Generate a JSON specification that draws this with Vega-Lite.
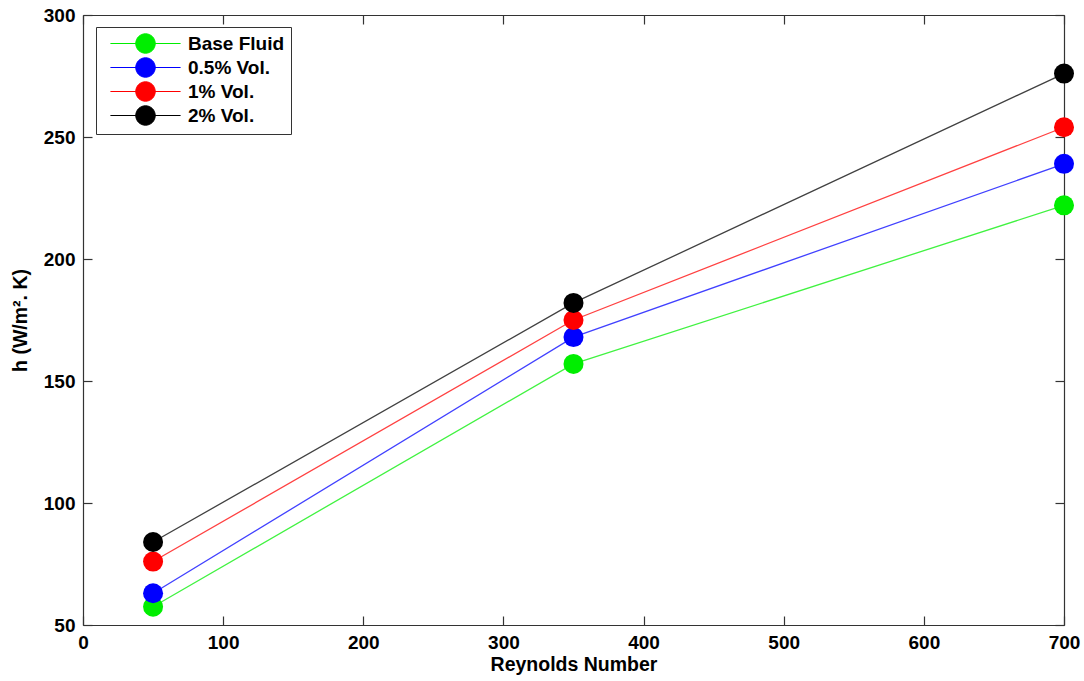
{
  "$schema": "https://vega.github.io/schema/vega-lite/v6.json",
  "width": 981,
  "height": 610,
  "autosize": {"type": "none"},
  "padding": {"left": 83, "top": 15, "right": 20, "bottom": 56},
  "background": "white",
  "config": {
    "font": "Liberation Sans",
    "view": {"stroke": null},
    "axis": {"grid": false, "labelFlush": false, "domainColor": "#333333", "tickColor": "#333333", "labelFont": "Liberation Sans", "labelFontWeight": "bold", "labelFontSize": 19, "labelColor": "black", "titleFont": "Liberation Sans", "titleFontWeight": "bold", "titleFontSize": 19.5, "titleColor": "black", "tickSize": -9, "domainWidth": 1.2, "tickWidth": 1.2}
  },
  "data": {"values": [
    {"series": "Base Fluid", "Re": 50, "h": 57.5},
    {"series": "Base Fluid", "Re": 350, "h": 157},
    {"series": "Base Fluid", "Re": 700, "h": 222},
    {"series": "0.5% Vol.", "Re": 50, "h": 63},
    {"series": "0.5% Vol.", "Re": 350, "h": 168},
    {"series": "0.5% Vol.", "Re": 700, "h": 239},
    {"series": "1% Vol.", "Re": 50, "h": 76},
    {"series": "1% Vol.", "Re": 350, "h": 175},
    {"series": "1% Vol.", "Re": 700, "h": 254},
    {"series": "2% Vol.", "Re": 50, "h": 84},
    {"series": "2% Vol.", "Re": 350, "h": 182},
    {"series": "2% Vol.", "Re": 700, "h": 276}
  ]},
  "layer": [
    {
      "encoding": {
        "x": {"field": "Re", "type": "quantitative", "scale": {"domain": [0, 700], "nice": false}, "axis": {"title": "Reynolds Number", "values": [0,100,200,300,400,500,600,700], "labelPadding": 17, "titlePadding": 3}},
        "y": {"field": "h", "type": "quantitative", "scale": {"domain": [50, 300], "nice": false}, "axis": {"title": "h (W/m². K)", "values": [50,100,150,200,250,300], "labelPadding": 17, "titlePadding": 13}},
        "color": {"field": "series", "type": "nominal", "sort": ["Base Fluid", "0.5% Vol.", "1% Vol.", "2% Vol."], "scale": {"domain": ["Base Fluid", "0.5% Vol.", "1% Vol.", "2% Vol."], "range": ["#00ee00", "#0000ff", "#ff0000", "#000000"]},
          "legend": {"title": null, "orient": "none", "legendX": 13, "legendY": 12, "strokeColor": "#333333", "fillColor": "white", "padding": 6, "symbolType": "M-3.6,0H3.6M-1,0A1,1 0 1,1 1,0A1,1 0 1,1 -1,0Z", "symbolSize": 380, "symbolStrokeWidth": 1, "symbolOpacity": 1, "labelFontSize": 19, "labelFontWeight": "bold", "labelColor": "black", "rowPadding": -1, "symbolOffset": 33, "labelOffset": 32}}
      },
      "layer": [
        {"mark": {"type": "line", "strokeWidth": 1.3, "opacity": 0.75}},
        {"mark": {"type": "point", "filled": true, "size": 400, "opacity": 1, "shape": "circle"}}
      ]
    },
    {
      "mark": {"type": "point", "opacity": 0},
      "encoding": {
        "x": {"field": "Re", "type": "quantitative", "axis": {"orient": "top", "title": null, "labels": false, "values": [0,100,200,300,400,500,600,700]}},
        "y": {"field": "h", "type": "quantitative", "axis": {"orient": "right", "title": null, "labels": false, "values": [50,100,150,200,250,300]}}
      }
    }
  ],
  "resolve": {"axis": {"x": "independent", "y": "independent"}}
}
